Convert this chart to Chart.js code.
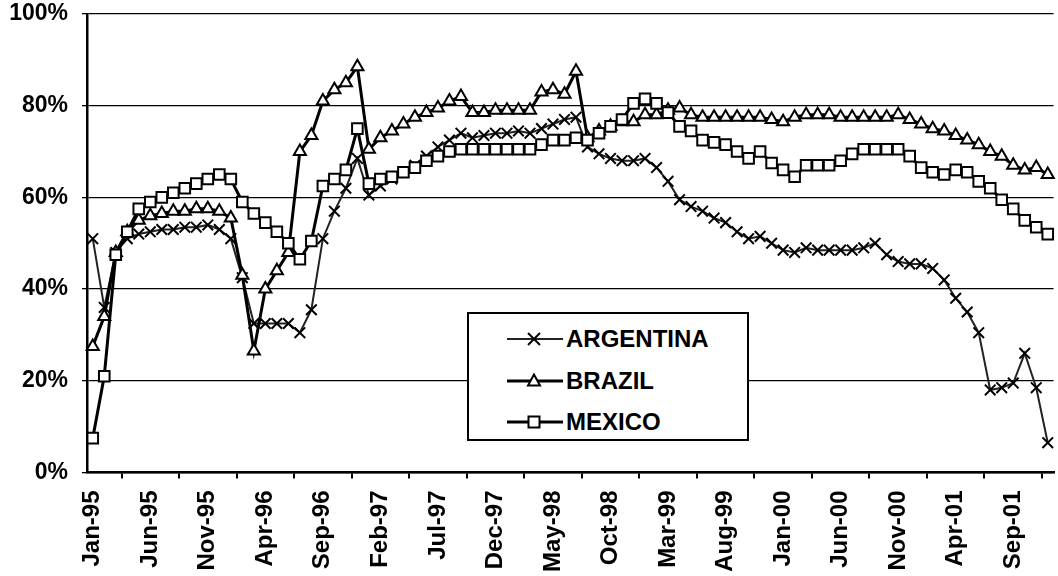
<!DOCTYPE html>
<html>
<head>
<meta charset="utf-8">
<script src="https://cdn.jsdelivr.net/npm/chart.js@4.4.0/dist/chart.umd.min.js"></script>
<style>
  html, body { margin: 0; padding: 0; background: #fff; overflow: hidden; }
  #wrap { position: relative; width: 1063px; height: 576px; }
  #legend {
    position: absolute; left: 467px; top: 312px; width: 278px; height: 125px;
    border: 2.5px solid #000; background: #fff;
    font-family: "Liberation Sans", Arial, sans-serif; font-weight: bold; font-size: 24px;
  }
  #legend .row { position: absolute; left: 0; height: 30px; line-height: 30px; }
  #legend svg { position: absolute; left: 38px; top: 0; }
  #legend span { position: absolute; left: 97px; top: 0; white-space: nowrap; }
</style>
</head>
<body>
<div id="wrap">
  <canvas id="shareChart"></canvas>
  <div id="legend">
    <div class="row" style="top:10px">
      <svg width="56" height="30"><line x1="0" y1="15" x2="56" y2="15" stroke="#222" stroke-width="2"/><line x1="21" y1="9" x2="33" y2="21" stroke="#000" stroke-width="2"/><line x1="21" y1="21" x2="33" y2="9" stroke="#000" stroke-width="2"/></svg>
      <span>ARGENTINA</span>
    </div>
    <div class="row" style="top:52px">
      <svg width="56" height="30"><line x1="0" y1="15" x2="56" y2="15" stroke="#000" stroke-width="3"/><polygon points="27,8.5 21,19.5 33,19.5" fill="#fff" stroke="#000" stroke-width="2"/></svg>
      <span>BRAZIL</span>
    </div>
    <div class="row" style="top:93px">
      <svg width="56" height="30"><line x1="0" y1="15" x2="56" y2="15" stroke="#000" stroke-width="3"/><rect x="21.5" y="9.5" width="11" height="11" fill="#fff" stroke="#000" stroke-width="2"/></svg>
      <span>MEXICO</span>
    </div>
  </div>
</div>
<script>
const months = [
  "Jan-95", "Feb-95", "Mar-95", "Apr-95", "May-95", "Jun-95", "Jul-95", "Aug-95", "Sep-95", "Oct-95", "Nov-95", "Dec-95",
  "Jan-96", "Feb-96", "Mar-96", "Apr-96", "May-96", "Jun-96", "Jul-96", "Aug-96", "Sep-96", "Oct-96", "Nov-96", "Dec-96",
  "Jan-97", "Feb-97", "Mar-97", "Apr-97", "May-97", "Jun-97", "Jul-97", "Aug-97", "Sep-97", "Oct-97", "Nov-97", "Dec-97",
  "Jan-98", "Feb-98", "Mar-98", "Apr-98", "May-98", "Jun-98", "Jul-98", "Aug-98", "Sep-98", "Oct-98", "Nov-98", "Dec-98",
  "Jan-99", "Feb-99", "Mar-99", "Apr-99", "May-99", "Jun-99", "Jul-99", "Aug-99", "Sep-99", "Oct-99", "Nov-99", "Dec-99",
  "Jan-00", "Feb-00", "Mar-00", "Apr-00", "May-00", "Jun-00", "Jul-00", "Aug-00", "Sep-00", "Oct-00", "Nov-00", "Dec-00",
  "Jan-01", "Feb-01", "Mar-01", "Apr-01", "May-01", "Jun-01", "Jul-01", "Aug-01", "Sep-01", "Oct-01", "Nov-01", "Dec-01",
];

// labels that show on the x axis
const tickLabels = [
  "Jan-95", "Jun-95", "Nov-95", "Apr-96", "Sep-96", "Feb-97", "Jul-97", "Dec-97", "May-98",
  "Oct-98", "Mar-99", "Aug-99", "Jan-00", "Jun-00", "Nov-00", "Apr-01", "Sep-01",
];

const argentina = [
  51, 36, 48, 51, 52, 52.5, 53, 53, 53.5, 53.5, 54, 53,
  51, 42.5, 32.5, 32.5, 32.5, 32.5, 30.5, 35.5, 51, 57, 62, 68.5,
  60.5, 62.5, 64, 65.5, 67, 69, 71, 72.5, 74, 73, 73.5, 74,
  74, 74.5, 74, 75, 76, 77, 77.5, 71, 69.5, 68.5, 68, 68,
  68.5, 66.5, 63.5, 59.5, 58, 57, 55.5, 54.5, 52.5, 51, 51.5, 50,
  48.5, 48, 49, 48.5, 48.5, 48.5, 48.5, 49, 50, 47.5, 46, 45.5,
  45.5, 44.5, 42, 38, 35, 30.5, 18, 18.5, 19.5, 26, 18.5, 6.5,
];

const brazil = [
  27.5, 34, 48, 52.5, 55, 56, 56.5, 57, 57, 57.5, 57.5, 57,
  55.5, 43, 26.5, 40, 44, 48, 70, 73.5, 81, 83.5, 85, 88.5,
  70.5, 73, 74.5, 76, 77.5, 78.5, 79.5, 81, 82, 78.5, 78.5, 79,
  79, 79, 79, 83, 83.5, 82.5, 87.5, 73, 74.5, 75.5, 76.5, 76.5,
  78, 78, 79, 79.5, 78, 77.5, 77.5, 77.5, 77.5, 77.5, 77.5, 77,
  76.5, 77.5, 78, 78, 78, 77.5, 77.5, 77.5, 77.5, 77.5, 78, 77,
  76, 75, 74.5, 73.5, 72.5, 71.5, 70, 69, 67, 66, 66.5, 65,
];

const mexico = [
  7.5, 21, 47.5, 52.5, 57.5, 59, 60, 61, 62, 63, 64, 65,
  64, 59, 56.5, 54.5, 52.5, 50, 46.5, 50.5, 62.5, 64, 66, 75,
  63, 64, 64.5, 65.5, 66.5, 68, 69, 70, 70.5, 70.5, 70.5, 70.5,
  70.5, 70.5, 70.5, 71.5, 72.5, 72.5, 73, 72.5, 74, 75.5, 77, 80.5,
  81.5, 80.5, 78.5, 75.5, 74.5, 72.5, 72, 71.5, 70, 68.5, 70, 67.5,
  66, 64.5, 67, 67, 67, 68, 69.5, 70.5, 70.5, 70.5, 70.5, 69,
  66.5, 65.5, 65, 66, 65.5, 63.5, 62, 59.5, 57.5, 55, 53.5, 52,
];

const yTicks = [0, 20, 40, 60, 80, 100];

Chart.defaults.font.family = '"Liberation Sans", Arial, sans-serif';
Chart.defaults.font.weight = "bold";
Chart.defaults.color = "#000";

const ctx = document.getElementById("shareChart").getContext("2d");
const chart = new Chart(ctx, {
  type: "line",
  data: {
    labels: months,
    datasets: [
      {
        label: "ARGENTINA",
        data: argentina,
        borderColor: "#222",
        borderWidth: 2,
        pointStyle: "crossRot",
        pointRadius: 7.5,
        pointBorderColor: "#000",
        pointBorderWidth: 2,
        order: 3,
      },
      {
        label: "BRAZIL",
        data: brazil,
        borderColor: "#000",
        borderWidth: 3,
        pointStyle: "triangle",
        pointRadius: 7,
        pointBackgroundColor: "#fff",
        pointBorderColor: "#000",
        pointBorderWidth: 2,
        order: 2,
      },
      {
        label: "MEXICO",
        data: mexico,
        borderColor: "#000",
        borderWidth: 3,
        pointStyle: "rect",
        pointRadius: 7.5,
        pointBackgroundColor: "#fff",
        pointBorderColor: "#000",
        pointBorderWidth: 2,
        order: 1,
      },
    ],
  },
  options: {
    responsive: true,
    maintainAspectRatio: false,
    animation: false,
    layout: { padding: { top: 14, right: 0, bottom: 0, left: 0 } },
    plugins: {
      legend: { display: false },
      tooltip: { enabled: false },
    },
    elements: { line: { tension: 0 } },
    scales: {
      x: {
        offset: true,
        grid: {
          offset: true,
          drawOnChartArea: false,
          drawTicks: true,
          tickLength: 6,
          color: "#000",
          lineWidth: 2,
        },
        border: { display: true, color: "#000", width: 2.5 },
        ticks: {
          autoSkip: false,
          minRotation: 90,
          maxRotation: 90,
          padding: 12,
          font: { size: 24, weight: "bold" },
          callback: function (value) {
            const l = this.getLabelForValue(value);
            return tickLabels.includes(l) ? l : null;
          },
        },
        afterFit: (scale) => {
          scale.height = 103.5;
          scale.paddingLeft = 0;
          scale.paddingRight = 0;
        },
      },
      y: {
        min: 0,
        max: 100,
        afterBuildTicks: (scale) => {
          scale.ticks = yTicks.map((v) => ({ value: v }));
        },
        grid: {
          color: "#000",
          lineWidth: 1.3,
          drawTicks: true,
          tickLength: 5,
        },
        border: { display: true, color: "#000", width: 2.5 },
        ticks: {
          padding: 14,
          font: { size: 23, weight: "bold" },
          callback: (v) => v + "%",
        },
        afterFit: (scale) => {
          scale.width = 87;
          scale.paddingTop = 0;
          scale.paddingBottom = 0;
        },
      },
    },
  },
});
</script>
</body>
</html>
